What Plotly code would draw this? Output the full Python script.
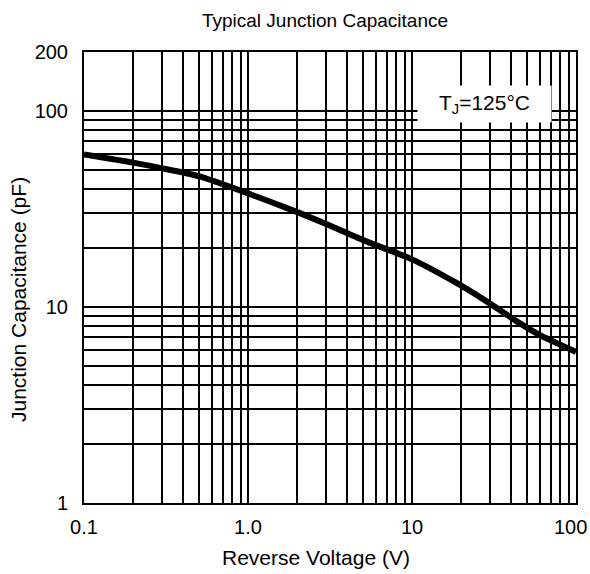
import plotly.graph_objects as go

# Data
voltage = [0.1, 0.2, 0.3, 0.5, 1.0, 2.0, 3.0, 5.0, 10, 18, 27, 44, 62, 100]
capacitance = [60, 54.5, 51, 46.5, 38, 30.5, 26.5, 22, 17.5, 13.5, 11.0, 8.4, 7.1, 5.9]

x_tickvals = [0.1, 1, 10]
x_ticktext = ["0.1", "1.0", "10"]
x_last_text = "100"
y_tickvals = [1, 10, 100, 200]
y_ticktext = ["1", "10", "100", "200"]

x_minor = [m * d for d in (0.1, 1, 10) for m in range(2, 10)] + [100]
y_minor = [m * d for d in (1, 10) for m in range(2, 10)]

FONT = "Liberation Sans, Arial, sans-serif"
W, H = 590, 574
L, R, T, B = 84, 14, 52, 71
PW, PH = W - L - R, H - T - B


def px_to_paper(px, py):
    return (px - L) / PW, (H - B - py) / PH


fig = go.Figure()
fig.add_trace(go.Scatter(
    x=voltage, y=capacitance, mode="lines",
    line=dict(color="black", width=6, shape="spline", smoothing=0.6),
    showlegend=False, hoverinfo="skip",
))

axis_common = dict(
    type="log",
    automargin=False,
    showline=True, mirror=True, linecolor="black", linewidth=2,
    showgrid=True, gridcolor="black", gridwidth=1.6,
    zeroline=False,
    ticks="outside", tickcolor="rgba(0,0,0,0)",
    tickfont=dict(family=FONT, size=20, color="black"),
)

fig.update_xaxes(
    **axis_common,
    range=[-1, 2],
    ticklen=5,
    tickmode="array", tickvals=x_tickvals, ticktext=x_ticktext,
    minor=dict(tickvals=x_minor, showgrid=True, gridcolor="black", gridwidth=1.6, ticks=""),
)
fig.update_yaxes(
    **axis_common,
    range=[0, 2.30103],
    ticklen=10,
    tickmode="array", tickvals=y_tickvals, ticktext=y_ticktext,
    minor=dict(tickvals=y_minor, showgrid=True, gridcolor="black", gridwidth=1.6, ticks=""),
)

# Last x tick label placed inside the page edge, as in the reference
_, lab_y = px_to_paper(0, 527)
fig.add_annotation(
    x=2, y=lab_y, xref="x", yref="paper",
    text=x_last_text, showarrow=False, xshift=-6,
    font=dict(family=FONT, size=20, color="black"),
    xanchor="center", yanchor="middle",
)

# Axis titles as annotations to match their offset positions
xt_x, xt_y = px_to_paper(316, 557)
fig.add_annotation(
    x=xt_x, y=xt_y, xref="paper", yref="paper",
    text="Reverse Voltage (V)", showarrow=False,
    font=dict(family=FONT, size=21, color="black"),
    xanchor="center", yanchor="middle",
)
yt_x, yt_y = px_to_paper(18, 300)
fig.add_annotation(
    x=yt_x, y=yt_y, xref="paper", yref="paper",
    text="Junction Capacitance (pF)", showarrow=False, textangle=-90,
    font=dict(family=FONT, size=21, color="black"),
    xanchor="center", yanchor="middle",
)

fig.add_annotation(
    x=1.442, y=2.038, xref="x", yref="y",
    text="T<sub>J</sub>=125°C", showarrow=False,
    font=dict(family=FONT, size=21, color="black"),
    bgcolor="white", borderpad=8, width=117, height=20,
)

fig.update_layout(
    width=W, height=H,
    margin=dict(l=L, r=R, t=T, b=B, autoexpand=False),
    paper_bgcolor="white", plot_bgcolor="white",
    title=dict(text="Typical Junction Capacitance", x=325 / W, xanchor="center", y=1 - 20 / H, yanchor="middle",
               font=dict(family=FONT, size=19, color="black")),
)

fig.write_html(
    "out.html",
    config={"displayModeBar": False},
    post_script="document.body.style.margin='0';document.body.style.overflow='hidden';",
)
